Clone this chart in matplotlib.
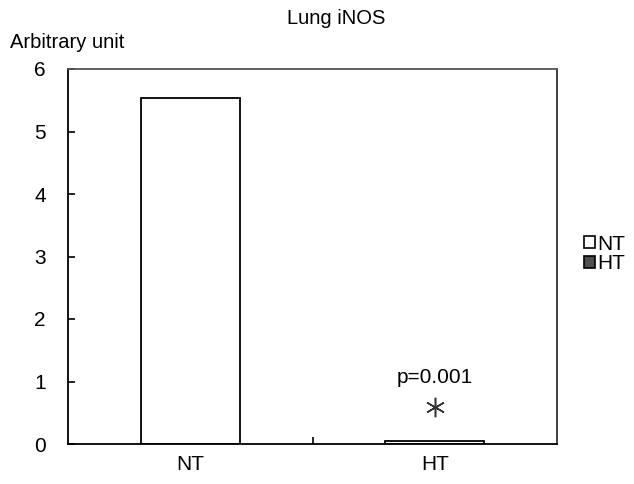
import matplotlib
matplotlib.use("Agg")
from matplotlib import pyplot as plt
from matplotlib.patches import Patch
from matplotlib.ticker import FixedLocator

plt.rcParams['font.family'] = ['Liberation Sans', 'DejaVu Sans']

# Data
groups = ["NT", "HT"]
values = [5.54, 0.05]
colors = ["white", "#505050"]
yticks = [0, 1, 2, 3, 4, 5, 6]
pvalue_text = "p=0.001"

fig = plt.figure(figsize=[6.34, 4.84], dpi=100)
ax = fig.add_axes([68/634, 1-444/484, (557-68)/634, (444-69)/484])

xpos = [0.5 + i for i in range(len(groups))]
ax.bar(xpos, values, width=0.405, color="white", edgecolor="black", linewidth=1.3)

ax.set_xlim(0, len(groups))
ax.set_ylim(0, 6)
ax.set_yticks(yticks)
ax.set_xticks(xpos)
ax.set_xticklabels(groups)
ax.xaxis.set_minor_locator(FixedLocator([1.0]))
ax.tick_params(axis='x', which='major', length=0, labelsize=15, pad=8)
ax.tick_params(axis='x', which='minor', direction='in', length=5, width=1.2)
ax.tick_params(axis='y', direction='in', length=5, width=1.2, labelsize=15, pad=16)
for s in ax.spines.values():
    s.set_linewidth(1.3)
ax.spines['top'].set_color('#555555')
ax.spines['right'].set_color('#333333')

# significance annotation
ax.text(xpos[1], 1.06, pvalue_text, ha="center", va="center", fontsize=15)
ax.plot([xpos[1]], [0.6], marker=(6, 2, 0), markersize=14, color="#333333",
        markeredgewidth=1.1, linestyle='')

fig.text(336/634, 1-19/484, "Lung iNOS", ha="center", va="center", fontsize=14.5)
fig.text(10/634, 1-42/484, "Arbitrary unit", ha="left", va="center", fontsize=14.5)

handles = [Patch(facecolor=c, edgecolor="black", linewidth=1.2) for c in colors]
fig.legend(handles, groups, loc="center left", bbox_to_anchor=(574/634, 1-254/484),
           frameon=False, fontsize=15, handlelength=0.5, handleheight=0.5,
           handletextpad=0.1, labelspacing=0.02, borderpad=0.0)

fig.savefig("out.png", dpi=100)
